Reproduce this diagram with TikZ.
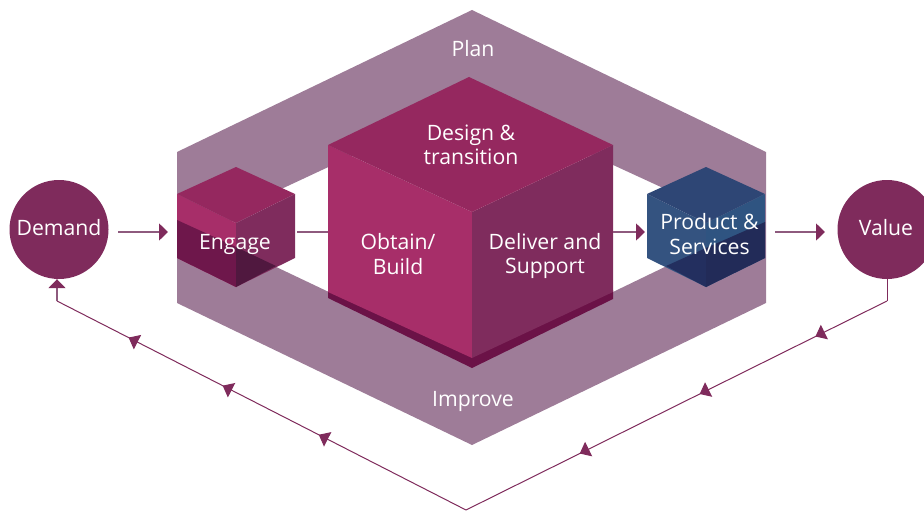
\documentclass[tikz,border=0pt]{standalone}
\usepackage{fontspec}
\setmainfont{Open Sans}
\usetikzlibrary{arrows.meta,decorations.markings}
\definecolor{band}{HTML}{9E7C98}
\definecolor{plum}{HTML}{7F2B5C}
\definecolor{cleft}{HTML}{A72E69}
\definecolor{ctop}{HTML}{95285F}
\definecolor{cright}{HTML}{7F2C5D}
\definecolor{cdark}{HTML}{6B1247}
\definecolor{dleft}{HTML}{6E174B}
\definecolor{dright}{HTML}{50183F}
\definecolor{ptop}{HTML}{2E4675}
\definecolor{pleft}{HTML}{345380}
\definecolor{pright}{HTML}{2F5481}
\definecolor{pdleft}{HTML}{232F5F}
\definecolor{pdright}{HTML}{222B58}
\definecolor{lineplum}{HTML}{8E5A7E}
\tikzset{
  x=1pt,y=-1pt,
  lbl/.style={text=white,font=\fontsize{21.2}{24.5}\selectfont,align=center,inner sep=0pt},
  circ/.style={circle,fill=plum,minimum size=99pt,inner sep=0pt},
  flow/.style={draw=lineplum,line width=1.6pt,-{Triangle[length=9pt,width=17pt,color=plum]}},
  plainflow/.style={draw=lineplum,line width=1.6pt},
  back/.style={draw=plum,line width=1pt},
  headone/.style={decoration={markings,
    mark=at position 0.17 with {\arrow{Triangle[length=10pt,width=16pt,color=plum]}},
    mark=at position 0.445 with {\arrow{Triangle[length=10pt,width=16pt,color=plum]}},
    mark=at position 0.73 with {\arrow{Triangle[length=10pt,width=16pt,color=plum]}}},postaction={decorate}},
  headtwo/.style={decoration={markings,
    mark=at position 0.36 with {\arrow{Triangle[length=10pt,width=16pt,color=plum]}},
    mark=at position 0.595 with {\arrow{Triangle[length=10pt,width=16pt,color=plum]}},
    mark=at position 0.825 with {\arrow{Triangle[length=10pt,width=16pt,color=plum]}}},postaction={decorate}}
}
\begin{document}
\begin{tikzpicture}
\useasboundingbox (0,0) rectangle (924,511);
% bands
\fill[band,even odd rule] (472,10)--(766,152)--(766,303)--(472,445)--(177,303)--(177,152)--cycle
  (472,100)--(700,205)--(700,250)--(472,360)--(232,246)--(232,212)--cycle;
% engage cube
\fill[cleft] (177,194)--(236,223)--(236,287)--(177,258)--cycle;
\fill[ctop] (236,167)--(295,194)--(236,223)--(177,194)--cycle;
\fill[cright] (295,194)--(295,258)--(236,287)--(236,223)--cycle;
\fill[dleft] (177,220)--(236,247)--(236,287)--(177,258)--cycle;
\fill[dright] (236,247)--(276,266)--(236,287)--cycle;
% product cube
\fill[pleft] (647,194)--(706,223)--(706,287)--(647,258)--cycle;
\fill[ptop] (706,167)--(765,194)--(706,223)--(647,194)--cycle;
\fill[pright] (765,194)--(765,258)--(706,287)--(706,223)--cycle;
\fill[pdright] (765,222)--(706,248)--(706,287)--(765,258)--cycle;
\fill[pdleft] (706,248)--(666,266)--(706,287)--cycle;
% main cube
\fill[cdark] (328,290)--(472,357)--(613,290)--(613,299)--(472,368)--(328,298)--cycle;
\fill[cleft] (328,145)--(472,212)--(472,358)--(328,292)--cycle;
\fill[cright] (613,145)--(613,292)--(472,358)--(472,212)--cycle;
\fill[ctop] (469,77)--(613,145)--(472,212)--(328,145)--cycle;
% labels and circles
\node[circ] (demand) at (59,229.5) {};
\node[circ] (value) at (887,229.5) {};
\node[lbl] (demandT) at (59,228) {Demand};
\node[lbl] (valueT) at (886,228) {Value};
\node[lbl] (plan) at (473,49) {Plan};
\node[lbl] (improve) at (473,401) {Improve};
\node[lbl] (design) at (471,145) {Design \&\\transition};
\node[lbl] (obtain) at (398,254) {Obtain/\\Build};
\node[lbl] (deliver) at (545,256) {Deliver and\\Support};
\node[lbl] (engage) at (235,244) {Engage};
\node[lbl] (product) at (709.5,234) {Product \&\\Services};
% connectors
\coordinate (d1) at (118,232); \coordinate (e1) at (168,232);
\coordinate (e2) at (297,232); \coordinate (c1) at (328,232);
\coordinate (c2) at (613,232); \coordinate (p1) at (645,232);
\coordinate (p2) at (775,232); \coordinate (v1) at (825,232);
\draw[flow] (d1) -- (e1);
\draw[plainflow] (e2) -- (c1);
\draw[flow] (c2) -- (p1);
\draw[flow] (p2) -- (v1);
\coordinate (vc) at (887,301);
\coordinate (bot) at (466,510);
\coordinate (dc) at (57,301);
\draw[back,headone] (vc) -- (bot);
\draw[back,headtwo] (bot) -- (dc);
\draw[back] (value.south) -- (vc);
\draw[plainflow,-{Triangle[length=9pt,width=17pt,color=plum]}] (dc) -- (demand.south -| dc);
\end{tikzpicture}
\end{document}
